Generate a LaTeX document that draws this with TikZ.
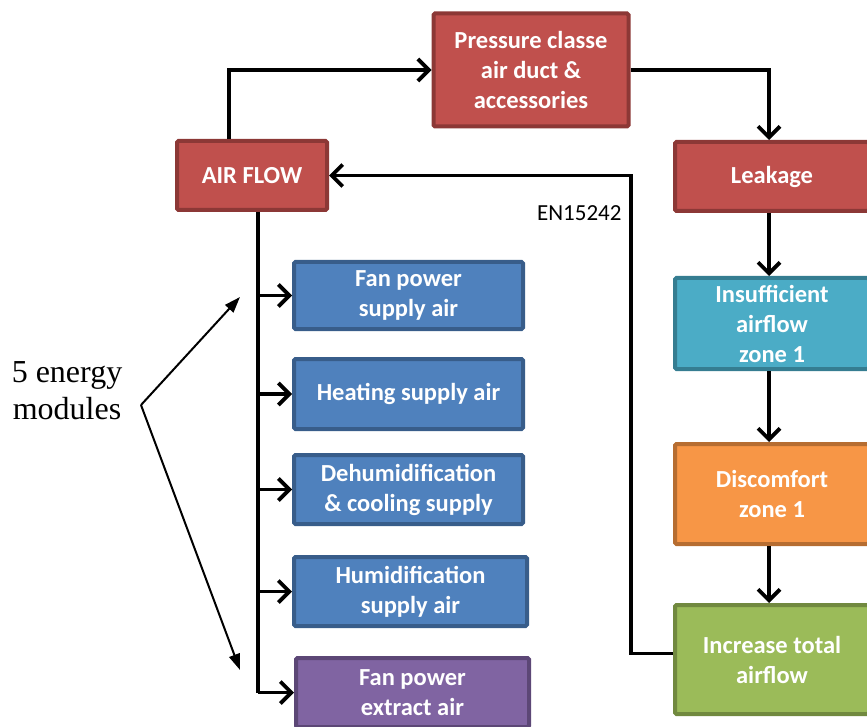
\documentclass[tikz,border=0pt]{standalone}
\usepackage{fontspec}
\setmainfont{Carlito}
\newfontfamily\timesfont{Liberation Serif}
\usetikzlibrary{positioning,arrows.meta,calc}
\definecolor{boxred}{HTML}{C0504D}
\definecolor{boxredline}{HTML}{8C3836}
\definecolor{boxblue}{HTML}{4F81BD}
\definecolor{boxblueline}{HTML}{385D8A}
\definecolor{boxteal}{HTML}{4BACC6}
\definecolor{boxtealline}{HTML}{357D91}
\definecolor{boxorange}{HTML}{F79646}
\definecolor{boxorangeline}{HTML}{B66D31}
\definecolor{boxgreen}{HTML}{9BBB59}
\definecolor{boxgreenline}{HTML}{71893F}
\definecolor{boxpurple}{HTML}{8064A2}
\definecolor{boxpurpleline}{HTML}{5C4776}
\tikzset{
  flowbox/.style={rectangle, rounded corners=1.5pt, line width=4pt, text=white,
    font=\fontsize{24.5}{30}\selectfont\bfseries, align=center, inner sep=0pt},
  flowarrow/.style={line width=3.8pt, -{Straight Barb[length=11pt,width=22pt,line width=3.8pt]}},
  noteline/.style={line width=2pt, -{Triangle[length=16pt,width=11pt]}}
}

\begin{document}
\begin{tikzpicture}[x=1pt,y=-1pt]
\useasboundingbox (0,0) rectangle (867,727);
% top row
\node[flowbox, fill=boxred, draw=boxredline, minimum width=195, minimum height=113] (pres) at (531,70) {Pressure classe\\air duct \&\\accessories};
\node[flowbox, fill=boxred, draw=boxredline, minimum width=150, minimum height=69] (air) at (252,175.5) {AIR FLOW};
% right column
\node[flowbox, fill=boxred, draw=boxredline, minimum width=194, minimum height=69] (leak) at (772,176.5) {Leakage};
\node[flowbox, fill=boxteal, draw=boxtealline, minimum width=194, minimum height=91] (insuf) at (772,323.5) {Insufficient\\airflow\\zone 1};
\node[flowbox, fill=boxorange, draw=boxorangeline, minimum width=194, minimum height=100] (disc) at (772,494) {Discomfort\\zone 1};
\node[flowbox, fill=boxgreen, draw=boxgreenline, minimum width=194, minimum height=109] (incr) at (772,659.5) {Increase total\\airflow};
% energy modules
\node[flowbox, fill=boxblue, draw=boxblueline, minimum width=229, minimum height=67] (m1) at (408.5,295.5) {Fan power\\supply air};
\node[flowbox, fill=boxblue, draw=boxblueline, minimum width=229, minimum height=70] (m2) at (408.5,394) {Heating supply air};
\node[flowbox, fill=boxblue, draw=boxblueline, minimum width=229, minimum height=69] (m3) at (408.5,489.5) {Dehumidification\\\& cooling supply};
\node[flowbox, fill=boxblue, draw=boxblueline, minimum width=233, minimum height=69] (m4) at (410.5,591.5) {Humidification\\supply air};
\node[flowbox, fill=boxpurple, draw=boxpurpleline, minimum width=233, minimum height=69] (m5) at (412.5,692.5) {Fan power\\extract air};
\node[font=\fontsize{23}{25}\selectfont, anchor=east] (norm) at (625,213) {EN15242};
\node[font=\timesfont\fontsize{32}{37}\selectfont, align=center] (note) at (67,391) {5 energy\\modules};
\coordinate (fork) at (141,405);
\coordinate (uptip) at (240,297);
\coordinate (downtip) at (240,670);

% loop
\draw[flowarrow] ([xshift=-23pt]air.north) |- (pres.west);
\draw[flowarrow] (pres.east) -| ([xshift=-3pt]leak.north);
\draw[flowarrow] ([xshift=-3pt]leak.south) -- ([xshift=-3pt]insuf.north);
\draw[flowarrow] ([xshift=-3pt]insuf.south) -- ([xshift=-3pt]disc.north);
\draw[flowarrow] ([xshift=-3pt]disc.south) -- ([xshift=-3pt]incr.north);
\draw[flowarrow] ([yshift=6pt]incr.west) -- ++(-42,0) |- (air.east);
% trunk to modules
\draw[line width=3.8pt] ([xshift=6pt]air.south) -- ([xshift=6pt]air.south |- m5.west);
\foreach \m in {m1,m2,m3,m4,m5}
  \draw[flowarrow] ([xshift=6pt]air.south |- \m.west) -- (\m.west);
\draw[noteline] (fork) -- (uptip);
\draw[noteline] (fork) -- (downtip);
\end{tikzpicture}
\end{document}
